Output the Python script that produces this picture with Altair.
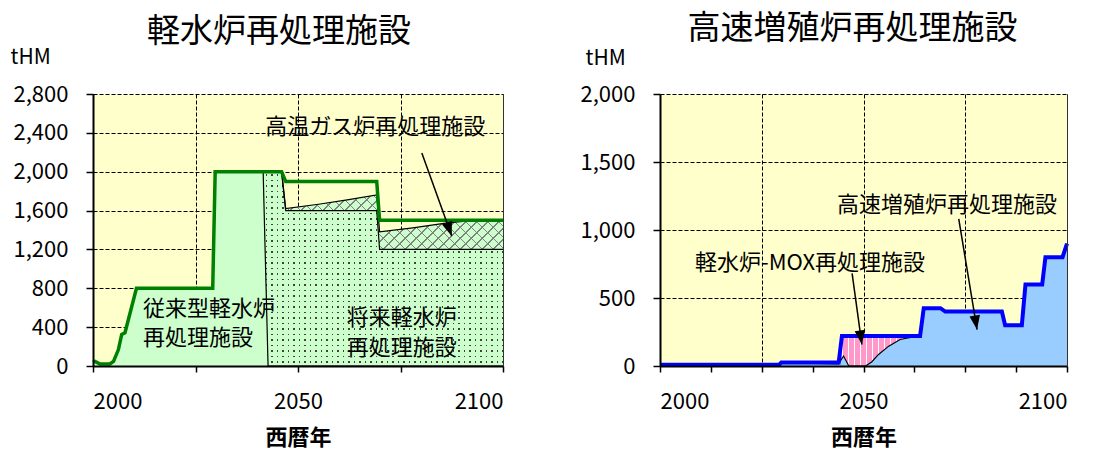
import math
import altair as alt
import pandas as pd

FONT = "Noto Sans CJK JP"

# ---------------- values (軽水炉再処理施設, tHM) ----------------
lwr_years = [2000, 2000.5, 2001.7, 2004.1, 2005, 2006.2, 2007, 2007.8, 2010.6, 2029.2, 2029.8,
             2041.5, 2042.7, 2046, 2047, 2055, 2062, 2069.2, 2069.9, 2078, 2086, 2092, 2100]
lwr_capacity = [40, 48, 21, 21, 48, 169, 325, 342, 800, 800, 2000,
                2000, 2000, 2000, 1900, 1900, 1900, 1900, 1500, 1500, 1500, 1500, 1500]
lwr_conventional = [40, 48, 21, 21, 48, 169, 325, 342, 800, 800, 2000,
                    2000, 0, 0, 0, 0, 0, 0, 0, 0, 0, 0, 0]
lwr_future = [0, 0, 0, 0, 0, 0, 0, 0, 0, 0, 0,
              0, 2000, 2000, 1600, 1600, 1600, 1600, 1200, 1200, 1200, 1200, 1200]
htgr = [0, 0, 0, 0, 0, 0, 0, 0, 0, 0, 0,
        0, 0, 0, 20, 65, 110, 160, 180, 222, 270, 295, 300]

# ---------------- values (高速増殖炉再処理施設, tHM) ----------------
fbr_years = [2000, 2029.3, 2029.8, 2043.9, 2044.7, 2045.1, 2046.4, 2050.5, 2052, 2053.7, 2056.2,
             2059, 2061.9, 2063.9, 2064.8, 2068.9, 2070.1, 2084, 2084.8, 2088.9, 2089.8,
             2093.9, 2094.7, 2098.9, 2100]
fbr_capacity = [10, 10, 25, 25, 220, 220, 220, 220, 220, 220, 220,
                220, 220, 220, 425, 425, 400, 400, 300, 300, 600,
                600, 800, 800, 900]
fbr_plant = [10, 10, 25, 15, 55, 73, 0, 0, 30, 85, 146,
             195, 212, 220, 425, 425, 400, 400, 300, 300, 600,
             600, 800, 800, 900]

# ---------------- ticks ----------------
lwr_xticks = [2000, 2025, 2050, 2075, 2100]
lwr_yticks = [0, 400, 800, 1200, 1600, 2000, 2400, 2800]
fbr_xticks = [2000, 2012.5, 2025, 2037.5, 2050, 2062.5, 2075, 2087.5, 2100]
fbr_yticks = [0, 500, 1000, 1500, 2000]

# ---------------- annotations ----------------
lwr_label_text = ["従来型軽水炉", "再処理施設", "将来軽水炉", "再処理施設", "高温ガス炉再処理施設"]
lwr_label_year = [2012.2, 2012.2, 2061.9, 2061.9, 2042.0]
lwr_label_val = [584, 290, 498, 187, 2459]
lwr_arrow_year = [2080.2]
lwr_arrow_val = [2192]
lwr_arrow_year2 = [2087.5]
lwr_arrow_val2 = [1338]

fbr_label_text = ["高速増殖炉再処理施設", "軽水炉-MOX再処理施設"]
fbr_label_year = [2043.5, 2008.6]
fbr_label_val = [1182, 754]
fbr_arrow_year = [2073.4, 2047.2]
fbr_arrow_val = [1082, 681]
fbr_arrow_year2 = [2077.9, 2049.6]
fbr_arrow_val2 = [268, 158]

# ---------------- styles ----------------
YELLOW = "#FFFFCC"
LGREEN = "#CCFFCC"
LGREEN_T = "rgba(204,255,204,0)"
CLEAR = "rgba(0,0,0,0)"
GREEN = "#008000"
BLUE = "#0000FF"
LBLUE = "#99CCFF"
PINK = "#FF99CC"
DOT = "#404040"
HATCH = "#808080"
W_L, W_R, H = 410, 407, 272
YMAX_L, YMAX_R = 2800, 2000
HEAD = "M0,0L-0.45,-1.2L0.45,-1.2Z"


def band_stops(length, period, width, on, off, phase=0.0):
    stops = [alt.GradientStop(offset=0, color=off)]
    pos = phase
    while pos < length:
        a = round(max(pos / length, 0.0), 5)
        b = round(min((pos + width) / length, 1.0), 5)
        stops += [alt.GradientStop(offset=a, color=off), alt.GradientStop(offset=a, color=on),
                  alt.GradientStop(offset=b, color=on), alt.GradientStop(offset=b, color=off)]
        pos += period
    stops.append(alt.GradientStop(offset=1, color=off))
    return stops


def grad_x(w, period, width, on, off):
    return alt.LinearGradient(gradient="linear", x1=0, y1=0, x2=1, y2=0,
                              stops=band_stops(w, period, width, on, off, period / 2))


def grad_y(h, period, width, on, off):
    return alt.LinearGradient(gradient="linear", x1=0, y1=0, x2=0, y2=1,
                              stops=band_stops(h, period, width, on, off, period / 2))


def grad_diag(w, h, period, width, on, off, flip):
    k = (w + h) / (w * w + h * h)
    if flip:
        return alt.LinearGradient(gradient="linear", x1=0, y1=1, x2=w * k, y2=1 - h * k,
                                  stops=band_stops(w + h, period, width, on, off, 2))
    return alt.LinearGradient(gradient="linear", x1=0, y1=0, x2=w * k, y2=h * k,
                              stops=band_stops(w + h, period, width, on, off, 2))


def arrow_frame(y1, v1, y2, v2, W, ymax):
    df = pd.DataFrame({"year": y1, "val": v1, "year2": y2, "val2": v2})
    dx = (df.year2 - df.year) / 100 * W
    dy = (df.val - df.val2) / ymax * H
    df["ang"] = [(math.degrees(math.atan2(-a, b)) + 360) % 360 for a, b in zip(dx, dy)]
    return df


# ---------------- frames ----------------
dfL = pd.DataFrame({"year": lwr_years, "cap": lwr_capacity, "conv": lwr_conventional,
                    "fut": lwr_future, "htgr": htgr})
dfL["c1"] = dfL["conv"]
dfL["c2"] = dfL["c1"] + dfL["fut"]
dfL["c3"] = dfL["c2"] + dfL["htgr"]
futL = dfL[dfL.year >= 2041.5]
htL = dfL[dfL.year >= 2046]

dfR = pd.DataFrame({"year": fbr_years, "cap": fbr_capacity, "fbr": fbr_plant})
pinkR = dfR[(dfR.year >= 2043.9) & (dfR.year <= 2063.9)]

labL = pd.DataFrame({"year": lwr_label_year, "val": lwr_label_val, "text": lwr_label_text})
labR = pd.DataFrame({"year": fbr_label_year, "val": fbr_label_val, "text": fbr_label_text})
arrL = arrow_frame(lwr_arrow_year, lwr_arrow_val, lwr_arrow_year2, lwr_arrow_val2, W_L, YMAX_L)
arrR = arrow_frame(fbr_arrow_year, fbr_arrow_val, fbr_arrow_year2, fbr_arrow_val2, W_R, YMAX_R)

# gradient boxes (pixel sizes of each textured area)
wF = (futL.year.max() - futL.year.min()) / 100 * W_L
hF = (futL.c2.max() - futL.c1.min()) / YMAX_L * H
wH = (htL.year.max() - htL.year.min()) / 100 * W_L
hH = (htL.c3.max() - htL.c2.min()) / YMAX_L * H
wP = (pinkR.year.max() - pinkR.year.min()) / 100 * W_R


def panel(title, dx, toff, ymax, xticks, yticks, titleX, titleY, grid_test):
    sx = alt.Scale(domain=[2000, 2100], nice=False, zero=False)
    sy = alt.Scale(domain=[0, ymax], nice=False)
    gx = alt.Axis(orient="bottom", values=xticks, grid=True, labels=False, ticks=False, domain=False,
                  title=None, zindex=0,
                  gridOpacity={"condition": {"test": grid_test, "value": 1}, "value": 0})
    gy = alt.Axis(orient="left", values=yticks, grid=True, labels=False, ticks=False, domain=False,
                  title=None, zindex=0)
    mx = alt.Axis(orient="bottom", values=xticks, grid=False, format="d",
                  labelExpr="datum.value % 50 === 0 ? datum.label : ''", zindex=1)
    my = alt.Axis(orient="left", values=yticks, grid=False, format=",.0f", zindex=1, titleAngle=0,
                  titleAlign="left", titleBaseline="middle", titleX=titleX, titleY=titleY)
    ry = alt.Axis(orient="right", grid=False, labels=False, ticks=False, domain=True,
                  domainColor="#333333", domainWidth=1, title=None, zindex=1)

    def X(f, axis=None):
        return alt.X(f"{f}:Q", scale=sx, axis=axis, title="西暦年")

    def Y(f, axis=None, t=None):
        return alt.Y(f"{f}:Q", scale=sy, axis=axis, title=t)

    return dict(X=X, Y=Y, gx=gx, gy=gy, mx=mx, my=my, ry=ry,
                title=alt.TitleParams(text=title, anchor="middle", frame="group", dx=dx, offset=toff))


# ---------------- left panel ----------------
pL = panel("軽水炉再処理施設", -19, -3, YMAX_L, lwr_xticks, lwr_yticks, -83, -37,
           "datum.value % 25 === 0")
X, Y = pL["X"], pL["Y"]
layersL = [
    alt.Chart(dfL).mark_area(fill=LGREEN, opacity=1).encode(x=X("year", pL["gx"]), y=Y("c1", pL["gy"])),
    alt.Chart(futL).mark_area(fill=DOT, opacity=1).encode(x=X("year"), y=Y("c1"), y2="c2:Q"),
    alt.Chart(futL).mark_area(fill=grad_x(wF, 5.5, 1.4, LGREEN_T, LGREEN), opacity=1).encode(
        x=X("year"), y=Y("c1"), y2="c2:Q"),
    alt.Chart(futL).mark_area(fill=grad_y(hF, 5.5, 1.4, LGREEN_T, LGREEN), opacity=1).encode(
        x=X("year"), y=Y("c1"), y2="c2:Q"),
    alt.Chart(htL).mark_area(fill=LGREEN, opacity=1).encode(x=X("year"), y=Y("c2"), y2="c3:Q"),
    alt.Chart(htL).mark_area(fill=grad_diag(wH, hH, 11, 1.8, HATCH, CLEAR, False), opacity=1).encode(
        x=X("year"), y=Y("c2"), y2="c3:Q"),
    alt.Chart(htL).mark_area(fill=grad_diag(wH, hH, 11, 1.8, HATCH, CLEAR, True), opacity=1).encode(
        x=X("year"), y=Y("c2"), y2="c3:Q"),
    alt.Chart(dfL).mark_line(color="black", strokeWidth=1.2).encode(x=X("year"), y=Y("c1")),
    alt.Chart(futL).mark_line(color="black", strokeWidth=1.2).encode(x=X("year"), y=Y("c2")),
    alt.Chart(htL).mark_line(color="black", strokeWidth=1.2).encode(x=X("year"), y=Y("c3", pL["ry"])),
    alt.Chart(dfL).mark_line(color=GREEN, strokeWidth=3.5).encode(
        x=X("year", pL["mx"]), y=Y("cap", pL["my"], "tHM")),
    alt.Chart(labL).mark_text(align="left", baseline="middle", font=FONT, fontSize=22, color="black").encode(
        x=X("year"), y=Y("val"), text="text:N"),
    alt.Chart(arrL).mark_rule(color="black", strokeWidth=1.5).encode(
        x=X("year"), y=Y("val"), x2="year2:Q", y2="val2:Q"),
    alt.Chart(arrL).mark_point(shape=HEAD, filled=True, color="black", size=560, opacity=1, strokeWidth=0).encode(
        x=X("year2"), y=Y("val2"), angle=alt.Angle("ang:Q", scale=None)),
]
left = alt.layer(*layersL).resolve_axis(x="independent", y="independent").properties(
    width=W_L, height=H, title=pL["title"])

# ---------------- right panel ----------------
pR = panel("高速増殖炉再処理施設", -11, 1, YMAX_R, fbr_xticks, fbr_yticks, -75, -36,
           "datum.value % 25 === 0")
X, Y = pR["X"], pR["Y"]
layersR = [
    alt.Chart(dfR).mark_area(fill=LBLUE, opacity=1).encode(x=X("year", pR["gx"]), y=Y("fbr", pR["gy"])),
    alt.Chart(pinkR).mark_area(fill=grad_x(wP, 6, 1.6, "white", PINK), opacity=1).encode(
        x=X("year"), y=Y("fbr"), y2="cap:Q"),
    alt.Chart(dfR).mark_line(color="black", strokeWidth=1.2).encode(x=X("year"), y=Y("fbr", pR["ry"])),
    alt.Chart(dfR).mark_line(color=BLUE, strokeWidth=4).encode(
        x=X("year", pR["mx"]), y=Y("cap", pR["my"], "tHM")),
    alt.Chart(labR).mark_text(align="left", baseline="middle", font=FONT, fontSize=22, color="black").encode(
        x=X("year"), y=Y("val"), text="text:N"),
    alt.Chart(arrR).mark_rule(color="black", strokeWidth=1.5).encode(
        x=X("year"), y=Y("val"), x2="year2:Q", y2="val2:Q"),
    alt.Chart(arrR).mark_point(shape=HEAD, filled=True, color="black", size=560, opacity=1, strokeWidth=0).encode(
        x=X("year2"), y=Y("val2"), angle=alt.Angle("ang:Q", scale=None)),
]
right = alt.layer(*layersR).resolve_axis(x="independent", y="independent").properties(
    width=W_R, height=H, title=pR["title"])

chart = alt.hconcat(left, right, spacing=70).properties(
    padding={"left": 2, "top": 5, "right": 0, "bottom": 6}, background="white"
).configure_view(fill=YELLOW, stroke=None).configure_axis(
    labelFont=FONT, labelFontSize=22, labelColor="black",
    titleFont=FONT, titleColor="black", titleFontSize=21, titleFontWeight="normal",
    domainColor="black", domainWidth=2, tickColor="black", tickWidth=1.5, tickSize=7,
    gridColor="black", gridDash=[4, 2], gridWidth=1, gridOpacity=1,
).configure_axisX(
    labelPadding=19, titleFontWeight="bold", titleFontSize=22, titlePadding=15, tickSize=6
).configure_axisY(labelPadding=18).configure_title(
    font=FONT, fontSize=33, fontWeight="normal", color="black"
)

chart.save("out.html", embed_options={"renderer": "svg", "actions": False})
